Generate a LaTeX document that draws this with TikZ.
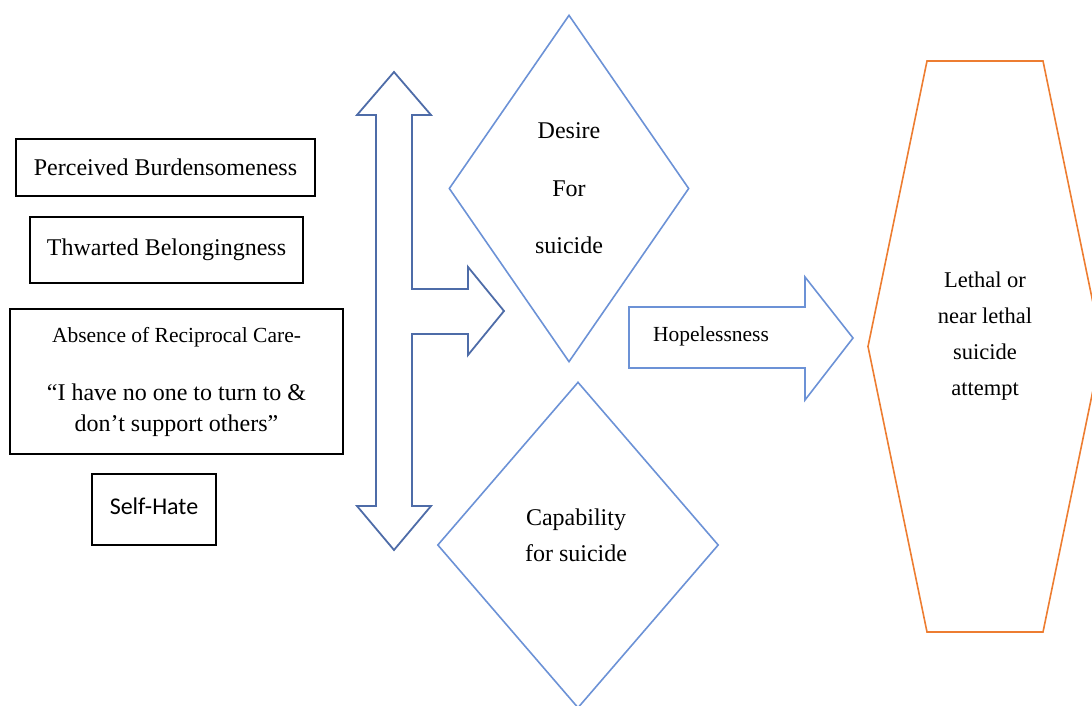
\documentclass[tikz,border=0pt]{standalone}
\usepackage{fontspec}
\setmainfont{Liberation Serif}
\newfontfamily\calibrifont{Carlito}
\usepackage{xcolor}
\usetikzlibrary{positioning, calc, shapes.geometric}
\definecolor{shapeblue}{RGB}{108,146,214}
\definecolor{arrowblue}{RGB}{78,108,168}
\definecolor{hexorange}{RGB}{237,125,49}
\tikzset{% styles for the model
	factor/.style={draw=black, line width=1.1pt, align=center, inner sep=0pt,
		font=\fontsize{24}{31}\selectfont},
	bluediamond/.style={shape=diamond, draw=shapeblue, line width=1.6pt, inner sep=0pt, align=center},
	bluearrow/.style={draw=shapeblue, line width=1.6pt},
	darkarrow/.style={draw=arrowblue, line width=1.8pt},
	orangeline/.style={draw=hexorange, line width=1.6pt},
	caption/.style={align=center, inner sep=0pt},
}

\begin{document}
\begin{tikzpicture}[x=1pt, y=-1pt]
	\useasboundingbox (0,0) rectangle (1092,706);
	\clip (0,0) rectangle (1092,706);

	% factors on the left
	\node[factor, minimum width=299pt, minimum height=57pt] (burden) at (165.5,167.5)
		{Perceived Burdensomeness};
	\node[factor, minimum width=273pt, minimum height=66pt] (belong) at (166.5,250)
		{\raisebox{3pt}{Thwarted Belongingness}};
	\node[factor, minimum width=333pt, minimum height=145pt] (care) at (176.5,381.5)
		{\fontsize{21.5}{31}\selectfont Absence of Reciprocal Care-\\[27pt]
		 \fontsize{24}{31}\selectfont “I have no one to turn to \&\\ don’t support others”};
	\node[factor, minimum width=124pt, minimum height=71pt, font=\calibrifont\fontsize{24}{29}\selectfont]
		(hate) at (154,509.5) {\raisebox{7pt}{Self-Hate}};

	% double arrow with branch
	\draw[darkarrow] (394,72) -- (431,115) -- (412,115) -- (412,289) -- (468,289)
		-- (468,267) -- (504,311) -- (468,355) -- (468,334) -- (412,334)
		-- (412,506) -- (431,506) -- (394,550) -- (357,506) -- (376,506)
		-- (376,115) -- (357,115) -- cycle;

	% desire and capability
	\node[bluediamond, minimum width=240pt, minimum height=347pt,
		font=\fontsize{24}{57.5}\selectfont] (desire) at (569,188.5) {Desire\\For\\suicide};
	\node[bluediamond, minimum width=281pt, minimum height=326pt] (capability) at (578,545) {};
	\node[caption, font=\fontsize{24}{36}\selectfont] (caplabel) at (576,535)
		{Capability\\for suicide};

	% hopelessness
	\draw[bluearrow] (629,307) -- (805,307) -- (805,277) -- (853,338) -- (805,400)
		-- (805,368) -- (629,368) -- cycle;
	\node[caption, font=\fontsize{21.5}{26}\selectfont] (hope) at (711,336) {Hopelessness};

	% outcome
	\draw[orangeline] (927,61) -- (1043,61) -- (1102,346.5) -- (1043,632) -- (927,632)
		-- (868,346.5) -- cycle;
	\node[caption, font=\fontsize{22.5}{36}\selectfont] (attempt) at (985,336)
		{Lethal or\\near lethal\\suicide\\attempt};
\end{tikzpicture}
\end{document}
